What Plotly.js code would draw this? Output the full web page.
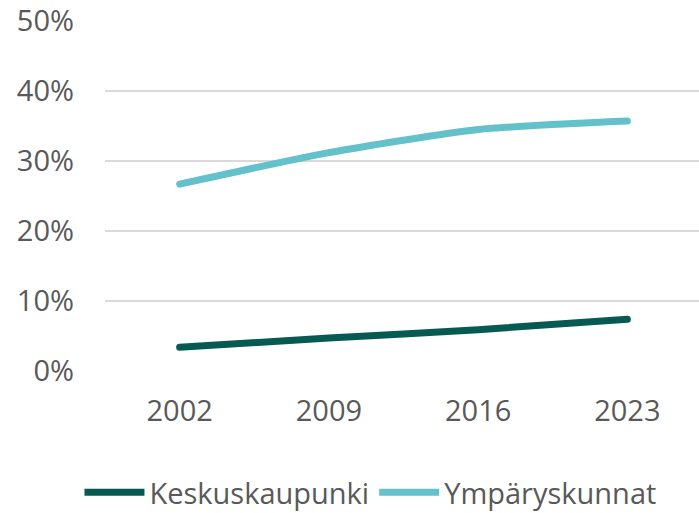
<!DOCTYPE html>
<html>
<head>
<meta charset="utf-8">
<script src="https://cdn.plot.ly/plotly-3.0.1.min.js"></script>
<style>html,body{margin:0;padding:0;background:#fff}#chart{width:699px;height:513px}
#chart .scatterlayer path.js-line{stroke-linecap:round}</style>
</head>
<body>
<div id="chart"></div>
<script>
const years = ["2002", "2009", "2016", "2023"];
const keskuskaupunki = [3.4, 4.7, 5.9, 7.4];
const ymparyskunnat = [26.7, 31.2, 34.5, 35.7];
const yTicks = [0, 10, 20, 30, 40, 50];
const yTickLabels = ["0%", "10%", "20%", "30%", "40%", "50%"];

const FONT = "'Liberation Sans Narrow', 'Arial Narrow', 'Open Sans', sans-serif";

const traces = [
  {x: years, y: keskuskaupunki, name: "Keskuskaupunki", type: "scatter", mode: "lines",
   line: {color: "#075a52", width: 7, shape: "spline", smoothing: 0.6}},
  {x: years, y: ymparyskunnat, name: "Ympäryskunnat", type: "scatter", mode: "lines",
   line: {color: "#62c1ca", width: 7, shape: "spline", smoothing: 0.6}}
];

const layout = {
  width: 699, height: 513,
  margin: {l: 105, r: 0, t: 21, b: 142},
  paper_bgcolor: "#fff", plot_bgcolor: "#fff",
  font: {family: FONT, color: "#595959", size: 29},
  xaxis: {type: "category", range: [-0.5, 3.48], showgrid: false, zeroline: false,
          showline: false, ticks: "", ticklabelstandoff: 20, fixedrange: true},
  yaxis: {range: [0, 50], tickvals: yTicks, ticktext: yTickLabels, showgrid: true,
          gridcolor: "#d9d9d9", gridwidth: 2, zeroline: false, showline: false,
          ticks: "", ticklabelstandoff: 30, fixedrange: true},
  showlegend: true,
  legend: {orientation: "h", xref: "container", yref: "container", x: 0.53, xanchor: "center",
           y: 0.04, yanchor: "middle", font: {size: 29, color: "#595959"},
           itemwidth: 60, tracegroupgap: 0},
  hovermode: false
};

Plotly.newPlot("chart", traces, layout, {displayModeBar: false, staticPlot: true});
</script>
</body>
</html>
